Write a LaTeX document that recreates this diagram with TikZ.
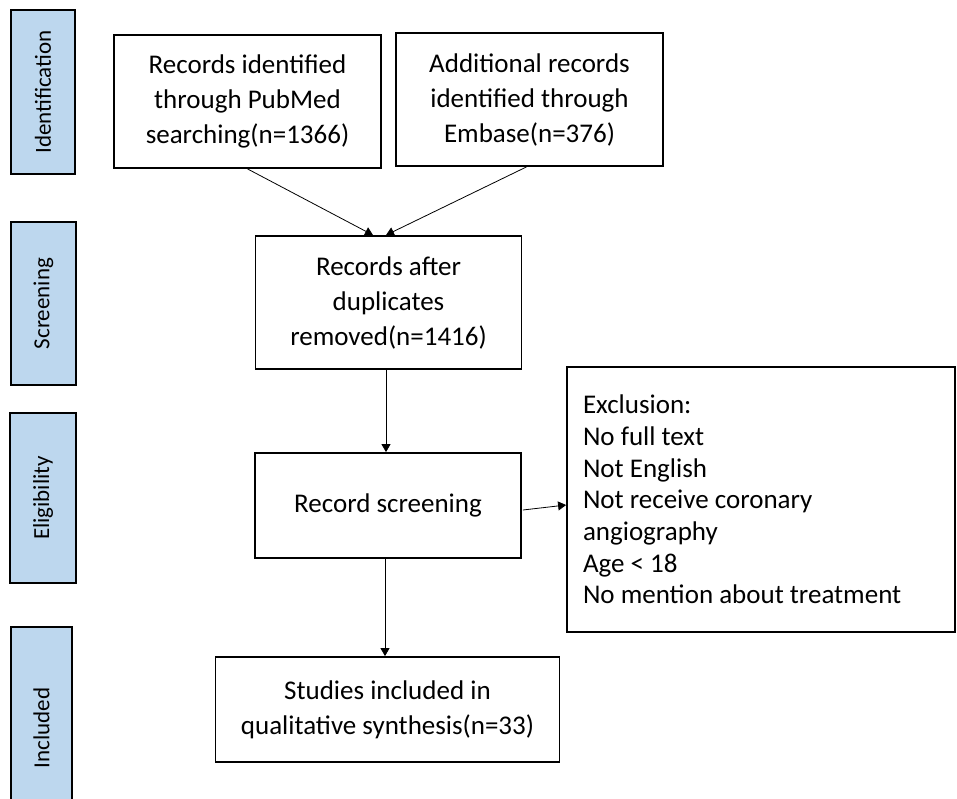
\documentclass[tikz,border=0pt]{standalone}
\usepackage{fontspec}
\setmainfont{Carlito}
\usetikzlibrary{arrows.meta}
\definecolor{sideblue}{RGB}{189,215,238}
\begin{document}
\begin{tikzpicture}[x=1pt,y=-1pt,
  box/.style={draw=black,line width=1.8pt,rectangle,inner sep=0pt,align=center,
    font=\fontsize{27}{35}\selectfont},
  sidebox/.style={draw=black,line width=1.8pt,fill=sideblue,rectangle,inner sep=0pt,
    rotate=90,font=\fontsize{23}{27}\selectfont},
  arr/.style={line width=0.8pt,-{Triangle[length=8pt,width=9pt]}}]
\clip (0,0) rectangle (957,798);
\useasboundingbox (0,0) rectangle (957,798);
% side labels
\node[sidebox,minimum width=164pt,minimum height=64pt] (sid) at (43,92) {Identification};
\node[sidebox,minimum width=163pt,minimum height=65pt] (ssc) at (43.5,303.5) {Screening};
\node[sidebox,minimum width=170pt,minimum height=66pt] (sel) at (43,498) {Eligibility};
\node[sidebox,minimum width=202pt,minimum height=61pt] (sin) at (41.5,728) {Included};
% main boxes
\node[box,minimum width=267pt,minimum height=133pt] (pub) at (247.5,101.5)
  {Records identified\\through PubMed\\searching(n=1366)};
\node[box,minimum width=267pt,minimum height=133pt] (emb) at (529.5,99.5)
  {Additional records\\identified through\\Embase(n=376)};
\node[box,minimum width=266pt,minimum height=133pt] (dup) at (388.5,302.5)
  {Records after\\duplicates\\removed(n=1416)};
\node[box,minimum width=266pt,minimum height=105pt] (scr) at (388,505.5)
  {Record screening};
\node[box,minimum width=344pt,minimum height=105pt] (stu) at (387.5,709.5)
  {Studies included in\\qualitative synthesis(n=33)};
\node[box,align=left,text width=356pt,inner xsep=16pt,minimum height=265pt,
  font=\fontsize{27}{31.7}\selectfont] (exc) at (761,499.5)
  {\spaceskip=0pt\xspaceskip=0pt Exclusion:\\No full text\\Not English\\Not receive coronary\\angiography\\Age < 18\\No mention about treatment};
% connectors
\draw[arr] (pub.south) -- ([xshift=-15.5pt]dup.north);
\draw[arr] ([xshift=-3pt]emb.south) -- ([xshift=-2.5pt]dup.north);
\draw[arr] ([xshift=-2.5pt]dup.south) -- ([xshift=-2pt]scr.north);
\draw[arr] ([xshift=1pt,yshift=-4.5pt]scr.east) -- ([yshift=-5.5pt]exc.west);
\draw[arr] ([xshift=-3pt]scr.south) -- ([xshift=-2.5pt]stu.north);
\end{tikzpicture}
\end{document}
